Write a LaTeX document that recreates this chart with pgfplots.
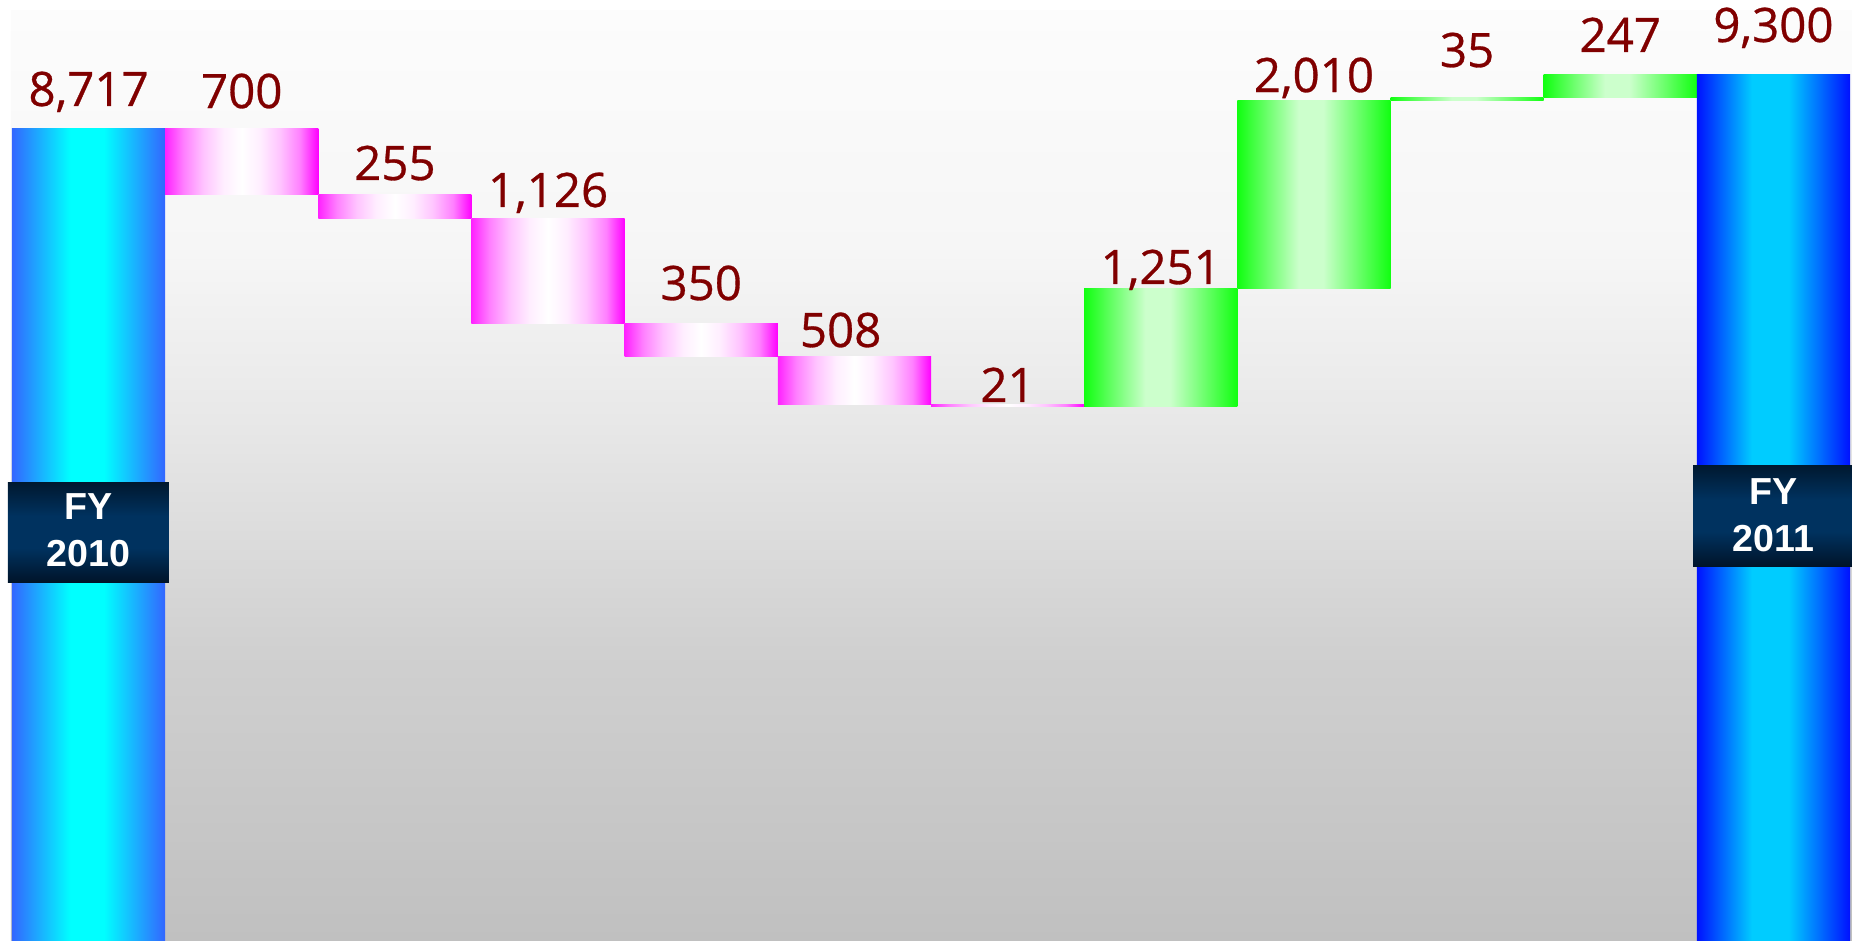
\documentclass[border=0pt]{standalone}
\usepackage{fontspec}
\setmainfont{Open Sans}
\newfontfamily\labfont{Open Sans}[FakeBold=0.6]
\newfontfamily\fyfont{Liberation Sans}
\usepackage{pgfplots}
\pgfplotsset{compat=1.18}

\definecolor{labred}{HTML}{800000}
\definecolor{sb1}{HTML}{3366FF}
\definecolor{sb2}{HTML}{00FFFF}
\definecolor{eb1}{HTML}{0011FF}
\definecolor{eb2}{HTML}{00CCFF}
\definecolor{pk1}{HTML}{FF22FF}
\definecolor{pk2}{HTML}{FF80FF}
\definecolor{pk3}{HTML}{FFC4FF}
\definecolor{pk4}{HTML}{FFEEFF}
\definecolor{gr1}{HTML}{11FF11}
\definecolor{gr2}{HTML}{CCFFCC}
\definecolor{nv1}{HTML}{00142A}
\definecolor{nv2}{HTML}{00325F}
\definecolor{nv3}{HTML}{00182F}
\definecolor{bg1}{HTML}{C0C0C0}
\definecolor{bg2}{HTML}{D0D0D0}
\definecolor{bg3}{HTML}{E8E8E8}
\definecolor{bg4}{HTML}{F6F6F6}
\definecolor{bg5}{HTML}{FCFCFC}

% shadings: 25bp..75bp is what lands on the path
\pgfdeclarehorizontalshading{startbar}{100bp}{color(0bp)=(sb1); color(25bp)=(sb1); color(44bp)=(sb2); color(55bp)=(sb2); color(75bp)=(sb1); color(100bp)=(sb1)}
\pgfdeclarehorizontalshading{endbar}{100bp}{color(0bp)=(eb1); color(25bp)=(eb1); color(43bp)=(eb2); color(55bp)=(eb2); color(75bp)=(eb1); color(100bp)=(eb1)}
\pgfdeclarehorizontalshading{downbar}{100bp}{color(0bp)=(pk1); color(25bp)=(pk1); color(31bp)=(pk2); color(37.5bp)=(pk3); color(44bp)=(pk4); color(50bp)=(white); color(56bp)=(pk4); color(62.5bp)=(pk3); color(69bp)=(pk2); color(75bp)=(magenta); color(100bp)=(magenta)}
\pgfdeclarehorizontalshading{upbar}{100bp}{color(0bp)=(gr1); color(25bp)=(gr1); color(45bp)=(gr2); color(53bp)=(gr2); color(75bp)=(gr1); color(100bp)=(gr1)}
\pgfdeclareverticalshading{bgshade}{100bp}{color(0bp)=(bg1); color(25bp)=(bg1); color(40.6bp)=(bg2); color(53bp)=(bg3); color(62bp)=(bg4); color(75bp)=(bg5); color(100bp)=(bg5)}
\pgfdeclareverticalshading{navy}{100bp}{color(0bp)=(nv1); color(25bp)=(nv1); color(42bp)=(nv2); color(58bp)=(nv2); color(75bp)=(nv3); color(100bp)=(nv3)}

\begin{document}
\begin{tikzpicture}[
  lab/.style={anchor=base, inner sep=0pt, text=labred, font=\labfont\fontsize{13.5}{16}\selectfont},
  fy/.style={anchor=base, inner sep=0pt, text=white, font=\fyfont\bfseries\fontsize{10.7}{13}\selectfont},
]
\begin{axis}[
  scale only axis, width=185.2mm, height=94.1mm,
  xmin=0.4217, xmax=12.513, ymin=41.7, ymax=10095,
  hide axis,
  ybar stacked, bar width=1, stacked ignores zero,
  reverse stacked plots=false,
  tot/.style={draw=none, shade, shading=#1},
]
\path (rel axis cs:0,0) rectangle (rel axis cs:1,1);
\shade[shading=bgshade] (axis cs:0.4935,41.7) rectangle (axis cs:12.513,9988);

% invisible base of the floating bars
\addplot[draw=none, fill=none] coordinates {
  (1,0) (2,8017) (3,7762) (4,6636) (5,6286) (6,5778) (7,5757)
  (8,5757) (9,7008) (10,9018) (11,9053) (12,0)};
% one series per bar so that each bar gets its own shading
\addplot[tot=startbar] coordinates {(1,8717) (2,0) (3,0) (4,0) (5,0) (6,0) (7,0) (8,0) (9,0) (10,0) (11,0) (12,0)};
\addplot[tot=downbar] coordinates {(1,0) (2,700) (3,0) (4,0) (5,0) (6,0) (7,0) (8,0) (9,0) (10,0) (11,0) (12,0)};
\addplot[tot=downbar] coordinates {(1,0) (2,0) (3,255) (4,0) (5,0) (6,0) (7,0) (8,0) (9,0) (10,0) (11,0) (12,0)};
\addplot[tot=downbar] coordinates {(1,0) (2,0) (3,0) (4,1126) (5,0) (6,0) (7,0) (8,0) (9,0) (10,0) (11,0) (12,0)};
\addplot[tot=downbar] coordinates {(1,0) (2,0) (3,0) (4,0) (5,350) (6,0) (7,0) (8,0) (9,0) (10,0) (11,0) (12,0)};
\addplot[tot=downbar] coordinates {(1,0) (2,0) (3,0) (4,0) (5,0) (6,508) (7,0) (8,0) (9,0) (10,0) (11,0) (12,0)};
\addplot[tot=downbar] coordinates {(1,0) (2,0) (3,0) (4,0) (5,0) (6,0) (7,21) (8,0) (9,0) (10,0) (11,0) (12,0)};
\addplot[tot=upbar] coordinates {(1,0) (2,0) (3,0) (4,0) (5,0) (6,0) (7,0) (8,1251) (9,0) (10,0) (11,0) (12,0)};
\addplot[tot=upbar] coordinates {(1,0) (2,0) (3,0) (4,0) (5,0) (6,0) (7,0) (8,0) (9,2010) (10,0) (11,0) (12,0)};
\addplot[tot=upbar] coordinates {(1,0) (2,0) (3,0) (4,0) (5,0) (6,0) (7,0) (8,0) (9,0) (10,35) (11,0) (12,0)};
\addplot[tot=upbar] coordinates {(1,0) (2,0) (3,0) (4,0) (5,0) (6,0) (7,0) (8,0) (9,0) (10,0) (11,247) (12,0)};
\addplot[tot=endbar] coordinates {(1,0) (2,0) (3,0) (4,0) (5,0) (6,0) (7,0) (8,0) (9,0) (10,0) (11,0) (12,9300)};

\node[lab] at (axis cs:1,8963) {8,717};
\node[lab] at (axis cs:2,8941) {700};
\node[lab] at (axis cs:3,8172) {255};
\node[lab] at (axis cs:4,7884) {1,126};
\node[lab] at (axis cs:5,6890) {350};
\node[lab] at (axis cs:5.91,6388) {508};
\node[lab] at (axis cs:7,5801) {21};
\node[lab] at (axis cs:8,7061) {1,251};
\node[lab] at (axis cs:9,9112) {2,010};
\node[lab] at (axis cs:10,9379) {35};
\node[lab] at (axis cs:11,9540) {247};
\node[lab] at (axis cs:12,9647) {9,300};

\shade[shading=navy] (axis cs:0.4739,3877) rectangle (axis cs:1.525,4945);
\node[fy] at (axis cs:1,4540) {FY};
\node[fy] at (axis cs:1,4038) {2010};
\shade[shading=navy] (axis cs:11.475,4048) rectangle (axis cs:12.513,5127);
\node[fy] at (axis cs:12,4700) {FY};
\node[fy] at (axis cs:12,4198) {2011};
\end{axis}
\end{tikzpicture}
\end{document}
